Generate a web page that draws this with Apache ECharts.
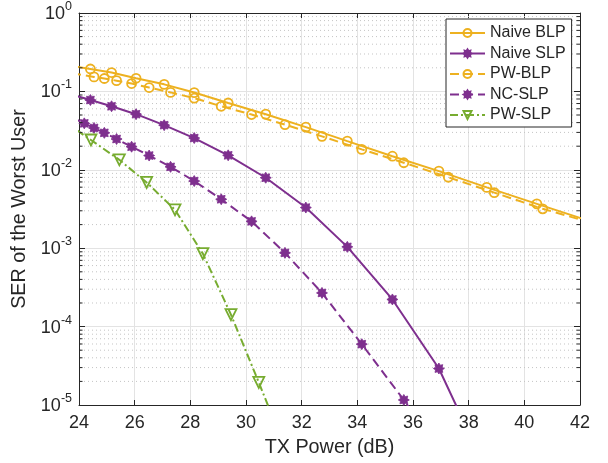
<!DOCTYPE html>
<html><head><meta charset="utf-8">
<script src="https://cdn.jsdelivr.net/npm/echarts@6/dist/echarts.min.js"></script>
<style>html,body{margin:0;padding:0;background:#fff}#c{width:608px;height:463px}</style>
</head><body><div id="c"></div>
<script>
// ---- data ----
const xTicks = [24, 26, 28, 30, 32, 34, 36, 38, 40, 42];
const yTickExps = [-5, -4, -3, -2, -1, 0];

const naiveX = [23.75, 24.41, 25.17, 26.05, 27.06, 28.14, 29.36, 30.71, 32.15, 33.64, 35.26, 36.93, 38.65, 40.45, 42.32];
const naiveBLP = [0.210, 0.193, 0.174, 0.147, 0.123, 0.0966, 0.0711, 0.0512, 0.0350, 0.0232, 0.0149, 0.00963, 0.00596, 0.00368, 0.00223];
const naiveSLP = [0.091, 0.0776, 0.0646, 0.0512, 0.0371, 0.0254, 0.0153, 0.00792, 0.00330, 0.00104, 0.000222, 2.92e-5, 1.44e-6];

const pwblpX = [23.75, 24.54, 24.91, 25.35, 25.89, 26.52, 27.29, 28.14, 29.11, 30.20, 31.40, 32.73, 34.16, 35.67, 37.27, 38.92, 40.66, 42.50];
const pwBLP = [0.171, 0.153, 0.146, 0.137, 0.126, 0.112, 0.0971, 0.0822, 0.0646, 0.0507, 0.0377, 0.0267, 0.0182, 0.0123, 0.00803, 0.00512, 0.00318, 0.00207];

const ncX = [23.75, 24.19, 24.54, 24.91, 25.35, 25.89, 26.52, 27.29, 28.14, 29.11, 30.20, 31.40, 32.73, 34.16, 35.67, 37.27];
const ncSLP = [0.0463, 0.0391, 0.0342, 0.0296, 0.0247, 0.0197, 0.0152, 0.0109, 0.00719, 0.00421, 0.00220, 0.000872, 0.000269, 5.97e-5, 1.16e-5, 1.76e-6];

const pwslpX = [23.45, 24.43, 25.45, 26.43, 27.45, 28.45, 29.46, 30.46, 31.46];
const pwSLP = [0.0417, 0.0240, 0.0134, 0.00690, 0.00309, 0.000852, 0.000142, 1.94e-5, 2.5e-6];

const seriesNames = ['Naive BLP', 'Naive SLP', 'PW-BLP', 'NC-SLP', 'PW-SLP'];
const xName = 'TX Power (dB)';
const yName = 'SER of the Worst User';

// ---- styling ----
const FONT = '"Liberation Sans", Arial, Helvetica, sans-serif';
const TXT = '#262626';
const ORANGE = '#EDB120', PURPLE = '#7E2F8E', GREEN = '#77AC30';
const STAR = 'path://M200,100 L160,125 L170.7,170.7 L124.9,160 L100,200 L75.1,160 L29.3,170.7 L40,124.9 L0,100 L40,75.1 L29.3,29.3 L75.1,40 L100,0 L124.9,40 L170.7,29.3 L160,75.1 Z';
const TRI = 'path://M0,0 L100,0 L50,86.6 Z';
const LW = 2;

function pairs(xs, ys) { return ys.map((y, i) => [xs[i], y]); }

const GL = 79, GR = 580, GT = 10, GB = 405;
const chart = echarts.init(document.getElementById('c'), null, { renderer: 'canvas' });

function mkSeries(name, data, color, lineType, symbol, size, filled) {
  return {
    name, type: 'line', data, clip: true,
    symbol, symbolSize: size, showAllSymbol: true,
    lineStyle: { color, width: LW, type: lineType },
    itemStyle: filled ? { color, borderColor: color, borderWidth: 0.8 }
                      : { color: 'rgba(0,0,0,0)', borderColor: color, borderWidth: 1.8 },
    emphasis: { disabled: true },
    z: 3
  };
}

const option = {
  animation: false,
  backgroundColor: '#fff',
  textStyle: { fontFamily: FONT },
  grid: { left: GL, right: 608 - GR, top: GT, bottom: 463 - GB, containLabel: false },
  legend: {
    data: seriesNames,
    orient: 'vertical', left: 446, top: 19,
    padding: [6, 6, 4, 3],
    itemWidth: 35, itemHeight: 10, itemGap: 4.5,
    backgroundColor: '#fff', borderColor: TXT, borderWidth: 1,
    textStyle: { fontSize: 16, color: TXT, fontFamily: FONT, lineHeight: 16 },
    selectedMode: false
  },
  xAxis: [{
    type: 'value', min: xTicks[0], max: xTicks[xTicks.length - 1], interval: 2,
    name: xName, nameLocation: 'middle', nameGap: 33,
    nameTextStyle: { fontSize: 19.8, color: TXT, fontFamily: FONT },
    axisLine: { show: true, lineStyle: { color: TXT, width: 1 } },
    axisTick: { show: true, inside: true, length: 5, lineStyle: { color: TXT } },
    axisLabel: { fontSize: 18, color: TXT, margin: 9, fontFamily: FONT },
    splitLine: { show: true, lineStyle: { color: '#e3e3e3', width: 1 } }
  }, {
    type: 'value', position: 'top', min: xTicks[0], max: xTicks[xTicks.length - 1], interval: 2,
    axisLine: { show: true, lineStyle: { color: TXT, width: 1 } },
    axisTick: { show: true, inside: true, length: 5, lineStyle: { color: TXT } },
    axisLabel: { show: false }, splitLine: { show: false }
  }],
  yAxis: [{
    type: 'log', logBase: 10, min: Math.pow(10, yTickExps[0]), max: Math.pow(10, yTickExps[yTickExps.length - 1]),
    name: yName, nameLocation: 'middle', nameGap: 41,
    nameTextStyle: { fontSize: 19.8, color: TXT, fontFamily: FONT },
    axisLine: { show: true, lineStyle: { color: TXT, width: 1 } },
    axisTick: { show: true, inside: true, length: 6, lineStyle: { color: TXT } },
    axisLabel: {
      margin: 7, color: TXT, fontFamily: FONT,
      formatter: function (v) { const e = Math.round(Math.log10(v)); return '{b|10}{s|' + e + '}'; },
      rich: {
        b: { fontSize: 18, color: TXT, fontFamily: FONT, verticalAlign: 'bottom', lineHeight: 20 },
        s: { fontSize: 12.5, color: TXT, fontFamily: FONT, verticalAlign: 'bottom', padding: [0, 0, 10, 0], lineHeight: 14 }
      }
    },
    splitLine: { show: true, lineStyle: { color: '#e3e3e3', width: 1 } }
  }, {
    type: 'log', logBase: 10, position: 'right', min: Math.pow(10, yTickExps[0]), max: Math.pow(10, yTickExps[yTickExps.length - 1]),
    axisLine: { show: true, lineStyle: { color: TXT, width: 1 } },
    axisTick: { show: true, inside: true, length: 6, lineStyle: { color: TXT } },
    axisLabel: { show: false }, splitLine: { show: false }
  }],
  series: [
    mkSeries(seriesNames[0], pairs(naiveX, naiveBLP), ORANGE, 'solid', 'circle', 9, false),
    mkSeries(seriesNames[1], pairs(naiveX, naiveSLP), PURPLE, 'solid', STAR, 11, true),
    mkSeries(seriesNames[2], pairs(pwblpX, pwBLP), ORANGE, [9, 5], 'circle', 9, false),
    mkSeries(seriesNames[3], pairs(ncX, ncSLP), PURPLE, [9, 5], STAR, 11, true),
    mkSeries(seriesNames[4], pairs(pwslpX, pwSLP), GREEN, [8, 3, 2, 3], TRI, 11, false)
  ]
};
chart.setOption(option);

// minor log grid lines and minor ticks, positioned through the axis scale
const g = [];
for (let e = yTickExps[0]; e < yTickExps[yTickExps.length - 1]; e++) {
  for (let m = 2; m <= 9; m++) {
    const v = m * Math.pow(10, e);
    const py = chart.convertToPixel({ yAxisIndex: 0 }, v);
    g.push({ type: 'line', silent: true, z: 1, shape: { x1: GL + 1, y1: py, x2: GR - 1, y2: py },
      style: { stroke: '#c4c4c4', lineWidth: 1, lineDash: [1, 3] } });
    g.push({ type: 'line', silent: true, z: 10, shape: { x1: GL, y1: py, x2: GL + 3.5, y2: py },
      style: { stroke: TXT, lineWidth: 1 } });
    g.push({ type: 'line', silent: true, z: 10, shape: { x1: GR - 3.5, y1: py, x2: GR, y2: py },
      style: { stroke: TXT, lineWidth: 1 } });
  }
}
chart.setOption({ graphic: { elements: g } });
</script></body></html>
